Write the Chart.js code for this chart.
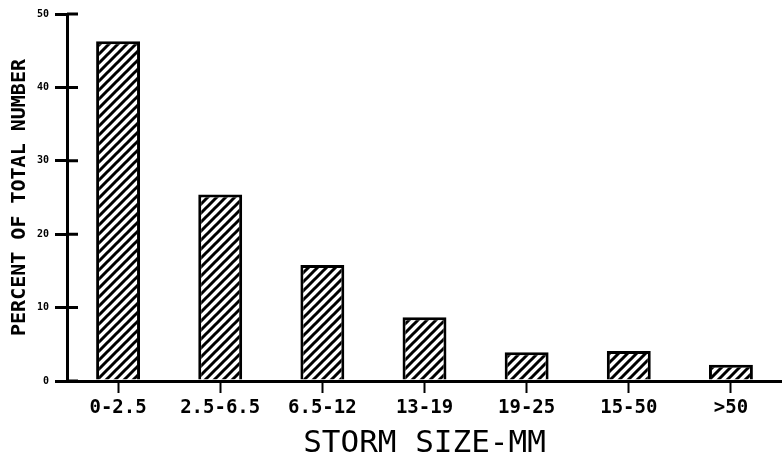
<!DOCTYPE html>
<html>
<head>
<meta charset="utf-8">
<script src="https://cdn.jsdelivr.net/npm/chart.js@4/dist/chart.umd.min.js"></script>
<style>
  html, body { margin: 0; padding: 0; background: #fff; }
  #wrap { width: 782px; height: 463px; }
</style>
</head>
<body>
<div id="wrap"><canvas id="chart" width="782" height="463"></canvas></div>
<script>
const categories = ['0-2.5', '2.5-6.5', '6.5-12', '13-19', '19-25', '15-50', '>50'];
const percents = [46.3, 25.4, 15.8, 8.7, 3.9, 4.1, 2.2];
const yTicks = [0, 10, 20, 30, 40, 50];

// diagonal "/" hatch used as bar fill (lines x+y = 0, n, 2n inside the tile)
function hatch() {
  const n = 9;
  const c = document.createElement('canvas');
  c.width = n; c.height = n;
  const g = c.getContext('2d');
  g.fillStyle = '#fff';
  g.fillRect(0, 0, n, n);
  g.strokeStyle = '#000';
  g.lineWidth = 3;
  g.beginPath();
  g.moveTo(-2, 2); g.lineTo(2, -2);
  g.moveTo(-2, n + 2); g.lineTo(n + 2, -2);
  g.moveTo(n - 2, n + 2); g.lineTo(n + 2, n - 2);
  g.stroke();
  return g.createPattern(c, 'repeat');
}

// y ticks cross the axis: draw the part inside the plot area too
const innerTicks = {
  id: 'innerTicks',
  afterDraw(chart) {
    const y = chart.scales.y, ctx = chart.ctx;
    const x0 = chart.chartArea.left;
    ctx.save();
    ctx.strokeStyle = '#000';
    ctx.lineWidth = 3;
    ctx.beginPath();
    y.ticks.forEach(t => {
      const py = y.getPixelForValue(t.value);
      ctx.moveTo(x0, py);
      ctx.lineTo(x0 + 11, py);
    });
    ctx.stroke();
    ctx.restore();
  }
};

new Chart(document.getElementById('chart'), {
  type: 'bar',
  data: {
    labels: categories,
    datasets: [{
      data: percents,
      backgroundColor: hatch(),
      borderColor: '#000',
      borderWidth: 3,
      borderSkipped: 'bottom',
      barPercentage: 0.43,
      categoryPercentage: 1,
    }],
  },
  options: {
    responsive: false,
    animation: false,
    layout: { padding: { top: 14, right: 0, left: 0, bottom: 0 } },
    plugins: { legend: { display: false }, tooltip: { enabled: false } },
    scales: {
      x: {
        grid: { offset: false, drawOnChartArea: false, color: '#000', lineWidth: 3, tickLength: 12, tickWidth: 2 },
        border: { color: '#000', width: 3 },
        ticks: {
          color: '#000',
          font: { family: 'DejaVu Sans Mono', size: 19, weight: 'bold' },
          padding: 4,
          maxRotation: 0,
        },
        title: {
          display: true,
          text: 'STORM SIZE-MM',
          color: '#000',
          font: { family: 'DejaVu Sans Mono', size: 31 },
          padding: { top: 0, bottom: 0 },
        },
        afterFit(s) { s.height = 82; },
      },
      y: {
        min: 0,
        max: 50,
        afterBuildTicks(s) { s.ticks = yTicks.map(v => ({ value: v })); },
        grid: { drawOnChartArea: false, color: '#000', lineWidth: 3, tickLength: 12 },
        border: { color: '#000', width: 3 },
        ticks: {
          color: '#000',
          font: { family: 'DejaVu Sans Mono', size: 10, weight: 'bold' },
          padding: 6,
        },
        title: {
          display: true,
          text: 'PERCENT OF TOTAL NUMBER',
          color: '#000',
          font: { family: 'DejaVu Sans Mono', size: 20, weight: 'bold' },
          padding: { top: 8, bottom: 0 },
        },
        afterFit(s) { s.width = 67; },
      },
    },
  },
  plugins: [innerTicks],
});
</script>
</body>
</html>
